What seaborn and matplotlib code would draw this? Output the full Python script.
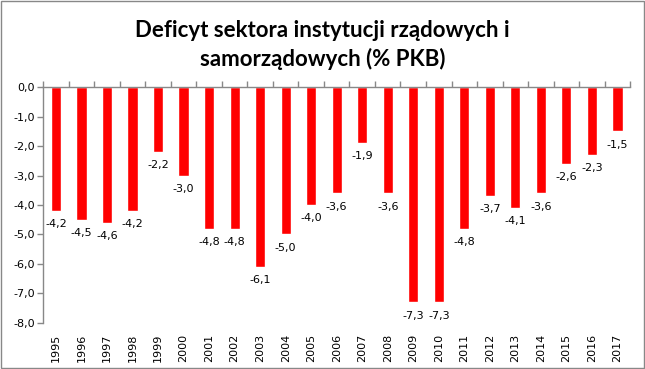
import matplotlib
matplotlib.use("Agg")
import matplotlib.pyplot as plt
import seaborn as sns
import pandas as pd
from matplotlib.ticker import FuncFormatter, MultipleLocator
from matplotlib.patches import Rectangle

years = [str(y) for y in range(1995, 2018)]
deficit = [-4.2, -4.5, -4.6, -4.2, -2.2, -3.0, -4.8, -4.8, -6.1, -5.0, -4.0, -3.6,
           -1.9, -3.6, -7.3, -7.3, -4.8, -3.7, -4.1, -3.6, -2.6, -2.3, -1.5]
title = "Deficyt sektora instytucji rządowych i\nsamorządowych (% PKB)"

df = pd.DataFrame({"rok": years, "deficyt": deficit})

sns.set_theme(style="white")
plt.rcParams['font.family'] = ['DejaVu Sans']

fig = plt.figure(figsize=(6.45, 3.69), dpi=100)
ax = fig.add_axes([0.067, 0.125, 0.91, 0.639])

sns.barplot(data=df, x="rok", y="deficyt", color="#FF0000", width=0.4,
            saturation=1, ax=ax)

ax.set_ylim(-8, 0)
ax.set_xlim(-0.5, len(years) - 0.5)
ax.yaxis.set_major_locator(MultipleLocator(1))
ax.yaxis.set_major_formatter(FuncFormatter(lambda v, p: f"{v:.1f}".replace(".", ",").replace("-0,0", "0,0")))
ax.set_xlabel("")
ax.set_ylabel("")

for s in ["right", "bottom"]:
    ax.spines[s].set_visible(False)
for s in ["left", "top"]:
    ax.spines[s].set_color("#888888")
    ax.spines[s].set_linewidth(1)

ax.tick_params(axis="y", which="major", left=True, length=4, width=1, color="#888888",
               labelsize=8, pad=2, labelcolor="black")
ax.tick_params(axis="x", which="major", bottom=False, top=False, length=0,
               labelrotation=90, labelsize=8, pad=8, labelcolor="black")
ax.set_xticks([i - 0.5 for i in range(len(years) + 1)], minor=True)
ax.tick_params(axis="x", which="minor", top=True, bottom=False, direction="out",
               length=4, width=1, color="#888888")

for i, v in enumerate(deficit):
    ax.annotate(f"{v:.1f}".replace(".", ","), xy=(i, v), xytext=(0, -6),
                textcoords="offset points", ha="center", va="top", fontsize=8,
                color="black")

fig.text(0.5, 0.945, title, ha="center", va="top", fontsize=16, color="black",
         fontweight="bold", family=["Lato", "DejaVu Sans"], linespacing=1.35)

fig.patches.append(Rectangle((0.001, 0.002), 0.997, 0.995, transform=fig.transFigure,
                             fill=False, edgecolor="#888888", linewidth=1))

fig.savefig("out.png", dpi=100)
